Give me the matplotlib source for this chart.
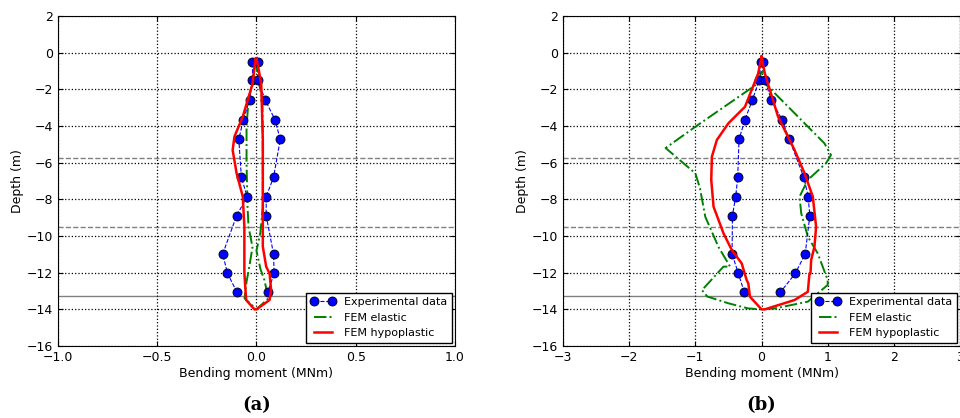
import matplotlib
matplotlib.use('Agg')
import matplotlib.pyplot as plt
import numpy as np

# depths of the measuring points (m)
exp_depth = [-0.5, -1.5, -2.6, -3.65, -4.73, -6.8, -7.85, -8.89, -10.98, -12.04, -13.07]

# (a) experimental moments, left and right side of the loop (MNm)
a_exp_left = [-0.02, -0.02, -0.035, -0.066, -0.089, -0.076, -0.047, -0.10, -0.17, -0.146, -0.098]
a_exp_right = [0.007, 0.007, 0.045, 0.093, 0.12, 0.086, 0.049, 0.049, 0.086, 0.089, 0.057]

# (b) experimental moments
b_exp_left = [-0.015, -0.035, -0.14, -0.25, -0.34, -0.36, -0.39, -0.44, -0.445, -0.35, -0.26]
b_exp_right = [0.025, 0.05, 0.15, 0.31, 0.42, 0.64, 0.705, 0.73, 0.66, 0.51, 0.285]

# (a) FEM elastic envelope
a_el_x = [-0.01, -0.02, -0.04, -0.05, -0.05, -0.045, -0.04, -0.02, -0.035, -0.05, -0.06, 0.0,
          0.06, 0.04, 0.02, 0.0, 0.02, 0.032, 0.032, 0.03, 0.01, 0.0]
a_el_y = [-0.8, -1.6, -2.6, -4.0, -6.0, -8.4, -9.5, -10.6, -11.6, -12.5, -13.4, -14.0,
          -13.4, -12.4, -11.8, -10.8, -9.8, -8.4, -5.0, -2.6, -1.5, -0.8]

# (a) FEM hypoplastic envelope
a_hy_x = [0.0, -0.005, -0.019, -0.069, -0.111, -0.12, -0.10, -0.069, -0.061, -0.061, -0.052, -0.01,
          0.0, 0.066, 0.074, 0.066, 0.049, 0.032, 0.032, 0.032, 0.024, 0.0]
a_hy_y = [-0.3, -0.31, -1.67, -3.49, -4.58, -5.31, -6.58, -7.85, -9.49, -12.0, -13.49, -14.0,
          -14.0, -13.49, -12.95, -12.04, -11.67, -10.58, -8.4, -4.76, -1.67, -0.3]

# (b) FEM elastic envelope
b_el_x = [0.0, -0.05, -1.0, -1.45, -1.0, -0.93, -0.85, -0.65, -0.475, -0.575, -0.9, -0.82, -0.5, -0.2, 0.0,
          0.2, 0.7, 1.0, 1.0, 0.85, 0.7, 0.6, 0.575, 0.7, 0.975, 1.05, 0.95, 0.15, 0.05, 0.0]
b_el_y = [-1.0, -1.67, -4.04, -5.2, -6.58, -7.4, -8.95, -10.6, -11.67, -11.67, -12.95, -13.3, -13.67, -13.95, -14.0,
          -13.95, -13.58, -12.67, -12.4, -10.95, -10.04, -8.76, -7.85, -6.94, -6.03, -5.58, -4.94, -2.03, -1.67, -1.0]

# (b) FEM hypoplastic envelope
b_hy_x = [0.0, -0.05, -0.25, -0.5, -0.675, -0.75, -0.76, -0.725, -0.575, -0.45, -0.3, -0.225, -0.2, -0.175, 0.0,
          0.05, 0.5, 0.7, 0.725, 0.74, 0.75, 0.8, 0.825, 0.775, 0.65, 0.5, 0.25, 0.05, 0.0]
b_hy_y = [-0.22, -1.13, -2.95, -3.85, -4.76, -5.67, -6.94, -8.4, -9.85, -10.76, -11.49, -12.4, -12.58, -13.31, -14.0,
          -14.0, -13.49, -13.04, -12.04, -12.04, -11.31, -10.58, -9.49, -7.85, -6.58, -5.31, -3.49, -1.13, -0.22]

# layer boundaries (m)
dashed_levels = [-5.75, -9.5]
solid_level = -13.25

panels = [
    (a_exp_left, a_exp_right, a_el_x, a_el_y, a_hy_x, a_hy_y, (-1.0, 1.0), [-1.0, -0.5, 0.0, 0.5, 1.0], '(a)'),
    (b_exp_left, b_exp_right, b_el_x, b_el_y, b_hy_x, b_hy_y, (-3, 3), [-3, -2, -1, 0, 1, 2, 3], '(b)'),
]

fig = plt.figure(figsize=(9.6, 4.18), dpi=100)
rects = [[0.0604, 0.1722, 0.4135, 0.7895], [0.5865, 0.1722, 0.4135, 0.7895]]

for rect, (ex_l, ex_r, el_x, el_y, hy_x, hy_y, xlim, xticks, tag) in zip(rects, panels):
    ax = fig.add_axes(rect)
    # experimental: left side bottom->top, then right side top->bottom
    ex_x = ex_l[::-1] + ex_r
    ex_y = exp_depth[::-1] + exp_depth
    ax.plot(ex_x, ex_y, '--o', color='b', lw=0.8, ms=6.5, mfc='b', mec='k', mew=0.6,
            label='Experimental data', zorder=4)
    ax.plot(el_x, el_y, '-.', color='g', lw=1.4, label='FEM elastic', zorder=3)
    ax.plot(hy_x, hy_y, '-', color='r', lw=1.8, label='FEM hypoplastic', zorder=5)
    for lev in dashed_levels:
        ax.axhline(lev, color='grey', ls='--', lw=1.0, zorder=1)
    ax.axhline(solid_level, color='grey', ls='-', lw=1.0, zorder=1)
    ax.set_xlim(xlim)
    ax.set_ylim(-16, 2)
    ax.set_xticks(xticks)
    ax.set_yticks(np.arange(-16, 3, 2))
    ax.grid(True, ls=':', color='k', lw=0.9)
    ax.tick_params(direction='in', top=True, right=True, labelsize=9)
    ax.set_xlabel('Bending moment (MNm)', fontsize=9, labelpad=2)
    ax.set_ylabel('Depth (m)', fontsize=9, labelpad=2)
    leg = ax.legend(loc='lower right', fontsize=8, numpoints=2, fancybox=False,
                    framealpha=1, borderaxespad=0.3, handlelength=2.2)
    leg.get_frame().set_edgecolor('k')
    ax.text(0.5, -0.179, tag, transform=ax.transAxes, ha='center', va='center',
            fontsize=13, fontweight='bold', family='DejaVu Serif')

fig.savefig('out.png', dpi=100)
